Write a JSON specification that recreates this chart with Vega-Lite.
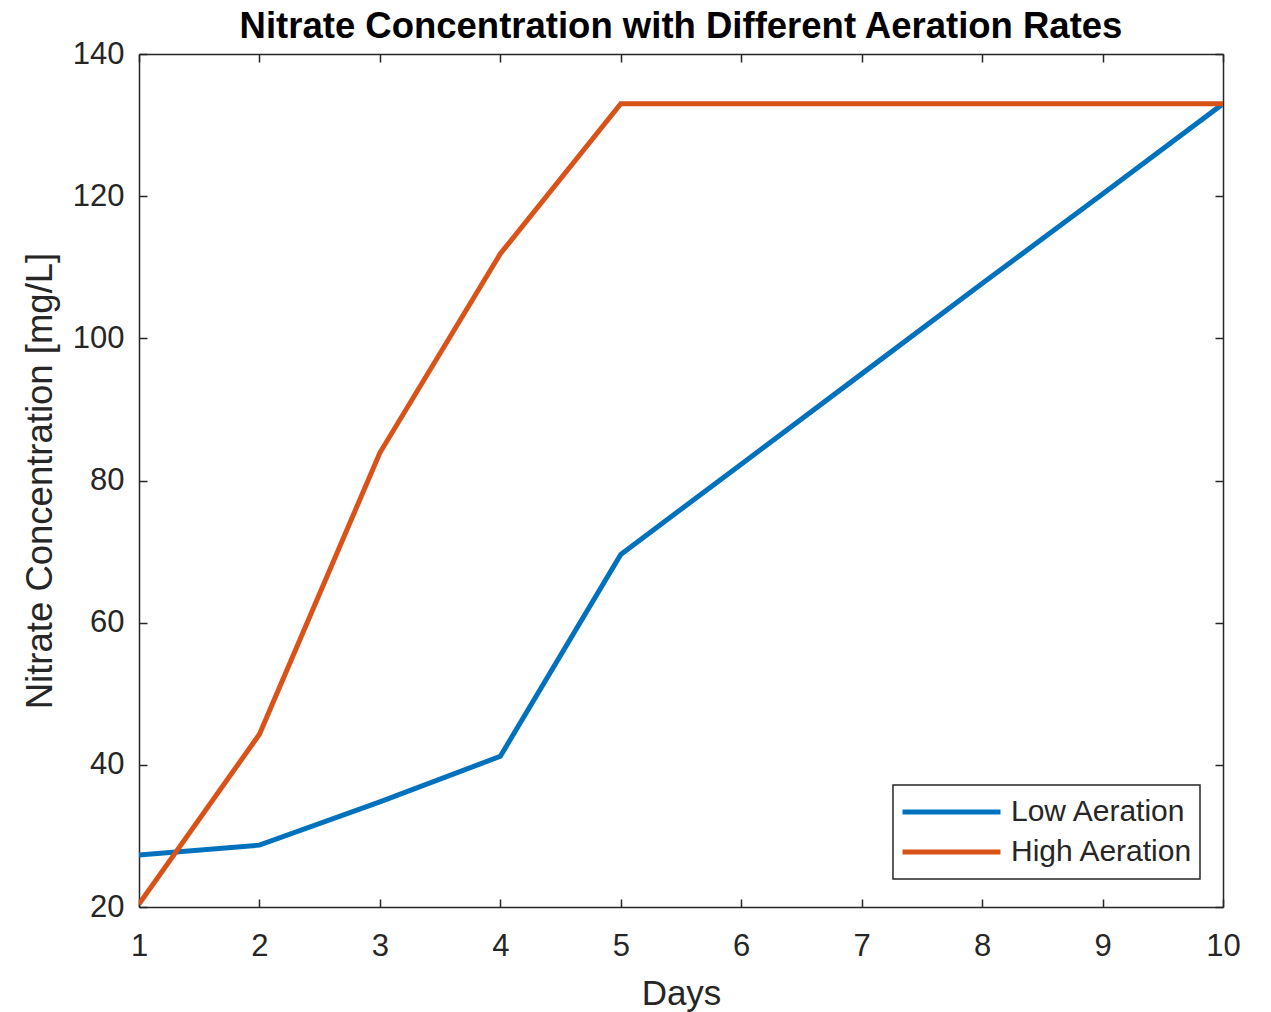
{
  "$schema": "https://vega.github.io/schema/vega-lite/v6.json",
  "width": 1084,
  "height": 853,
  "autosize": "none",
  "padding": {"left": 139, "top": 54, "right": 48, "bottom": 105},
  "background": "white",
  "title": {
    "text": "Nitrate Concentration with Different Aeration Rates",
    "font": "Liberation Sans",
    "fontSize": 36.5,
    "fontWeight": "bold",
    "color": "#000000",
    "anchor": "middle",
    "offset": -7
  },
  "config": {
    "view": {"stroke": null},
    "axis": {
      "domainColor": "#262626",
      "domainWidth": 1.5,
      "tickColor": "#262626",
      "tickWidth": 1.5,
      "tickSize": -8,
      "grid": false,
      "labelFlush": false,
      "labelFont": "Liberation Sans",
      "labelFontSize": 31,
      "labelColor": "#262626",
      "titleFont": "Liberation Sans",
      "titleFontSize": 35,
      "titleFontWeight": "normal",
      "titleColor": "#262626"
    },
    "legend": {
      "orient": "none",
      "legendX": 754,
      "legendY": 731,
      "strokeColor": "#262626",
      "strokeWidth": 1.5,
      "fillColor": "white",
      "padding": 7,
      "symbolType": "stroke",
      "symbolStrokeWidth": 5,
      "symbolSize": 9600,
      "clipHeight": 40,
      "labelFont": "Liberation Sans",
      "labelFontSize": 30,
      "labelColor": "#262626",
      "labelOffset": 8,
      "labelLimit": 400,
      "rowPadding": 0,
      "title": null
    }
  },
  "data": {
    "values": [
      {"day": 1, "nitrate": 27.3, "series": "Low Aeration"},
      {"day": 2, "nitrate": 28.7, "series": "Low Aeration"},
      {"day": 3, "nitrate": 34.8, "series": "Low Aeration"},
      {"day": 4, "nitrate": 41.2, "series": "Low Aeration"},
      {"day": 5, "nitrate": 69.6, "series": "Low Aeration"},
      {"day": 6, "nitrate": 82.3, "series": "Low Aeration"},
      {"day": 7, "nitrate": 95.0, "series": "Low Aeration"},
      {"day": 8, "nitrate": 107.7, "series": "Low Aeration"},
      {"day": 9, "nitrate": 120.3, "series": "Low Aeration"},
      {"day": 10, "nitrate": 133.0, "series": "Low Aeration"},
      {"day": 1, "nitrate": 20.4, "series": "High Aeration"},
      {"day": 2, "nitrate": 44.3, "series": "High Aeration"},
      {"day": 3, "nitrate": 83.9, "series": "High Aeration"},
      {"day": 4, "nitrate": 111.9, "series": "High Aeration"},
      {"day": 5, "nitrate": 133.0, "series": "High Aeration"},
      {"day": 6, "nitrate": 133.0, "series": "High Aeration"},
      {"day": 7, "nitrate": 133.0, "series": "High Aeration"},
      {"day": 8, "nitrate": 133.0, "series": "High Aeration"},
      {"day": 9, "nitrate": 133.0, "series": "High Aeration"},
      {"day": 10, "nitrate": 133.0, "series": "High Aeration"}
    ]
  },
  "layer": [
    {
      "mark": {"type": "line", "strokeWidth": 5, "opacity": 0},
      "encoding": {
        "x": {"field": "day", "type": "quantitative", "scale": {"domain": [1, 10], "nice": false},
              "axis": {"orient": "top", "labels": false, "title": null, "values": [1,2,3,4,5,6,7,8,9,10]}},
        "y": {"field": "nitrate", "type": "quantitative", "scale": {"domain": [20, 140], "nice": false},
              "axis": {"orient": "right", "labels": false, "title": null, "values": [20,40,60,80,100,120,140]}},
        "detail": {"field": "series"}
      }
    },
    {
      "mark": {"type": "line", "strokeWidth": 5, "clip": true},
      "encoding": {
        "x": {"field": "day", "type": "quantitative", "scale": {"domain": [1, 10], "nice": false},
              "axis": {"orient": "bottom", "title": "Days", "values": [1,2,3,4,5,6,7,8,9,10], "labelPadding": 32, "titlePadding": 15}},
        "y": {"field": "nitrate", "type": "quantitative", "scale": {"domain": [20, 140], "nice": false},
              "axis": {"orient": "left", "title": "Nitrate Concentration [mg/L]", "titleFontSize": 36.5, "values": [20,40,60,80,100,120,140], "labelPadding": 23, "titlePadding": 13}},
        "color": {"field": "series", "type": "nominal",
                  "scale": {"domain": ["Low Aeration", "High Aeration"], "range": ["#0072BD", "#D95319"]}}
      }
    }
  ],
  "resolve": {"axis": {"x": "independent", "y": "independent"}}
}
